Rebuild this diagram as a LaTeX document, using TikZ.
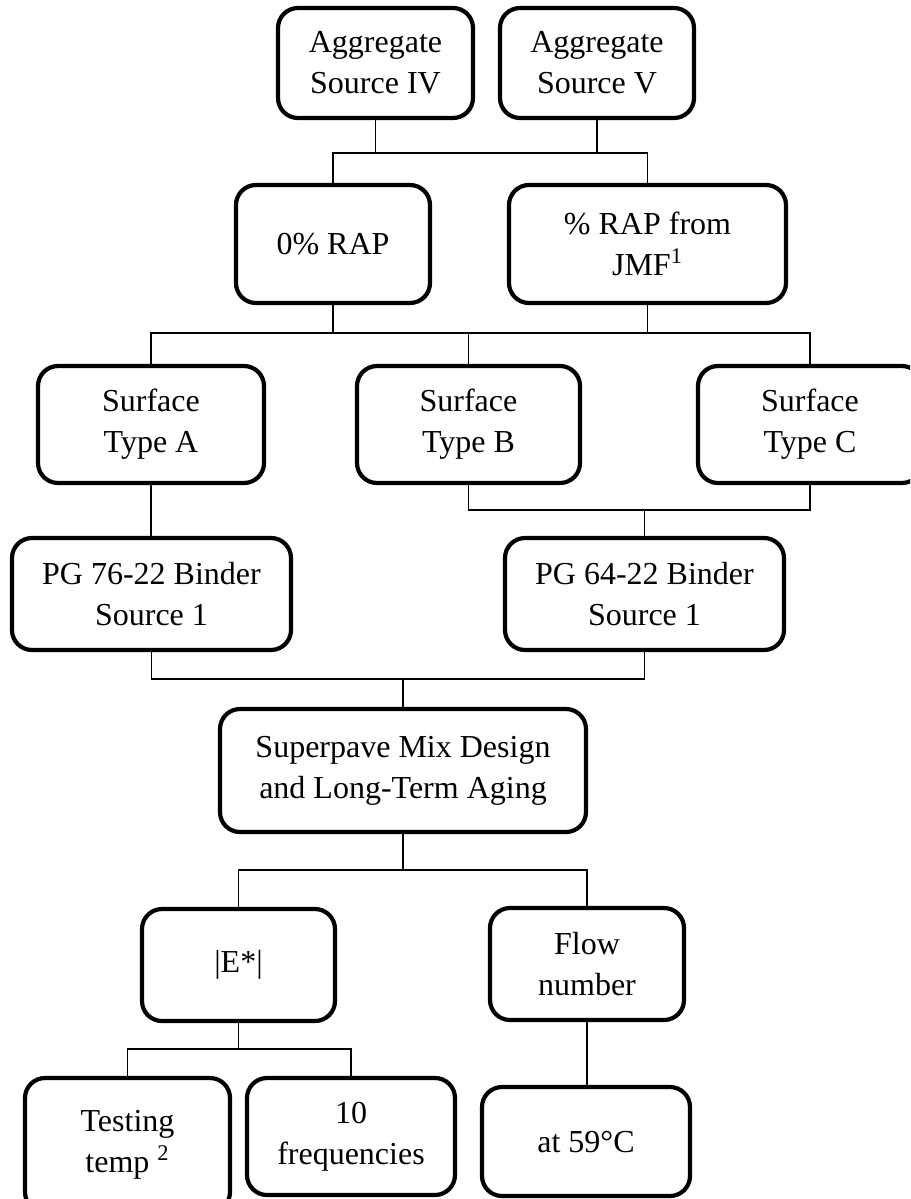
\documentclass[tikz,border=0pt]{standalone}
\usepackage{fontspec}
\setmainfont{Liberation Serif}
\tikzset{
  box/.style={draw, line width=2.1pt, rounded corners=10pt, inner sep=0pt,
    align=center, font=\fontsize{16pt}{20.5pt}\selectfont},
  link/.style={line width=0.8pt}
}
% \bx{name}{x1}{y1}{x2}{y2}{text}: rounded box spanning the given corners
\newcommand\bx[6]{\node[box, minimum width={(#4-#2)*0.5pt}, minimum height={(#5-#3)*0.5pt}]
  (#1) at ({(#2+#4)/2},{(#3+#5)/2}) {#6};}
\begin{document}
\begin{tikzpicture}[x=0.5pt,y=-0.5pt]
\useasboundingbox (0,0) rectangle (910,1199);
\clip (0,0) rectangle (910,1199);

% aggregates
\bx{a4}{278}{8}{473}{118}{Aggregate\\Source IV}
\bx{a5}{500}{8}{694}{118}{Aggregate\\Source V}
% RAP content
\bx{r0}{236}{185}{430}{303}{0\% RAP}
\bx{rj}{509}{185}{786}{303}{\% RAP from\\JMF\textsuperscript{1}}
% surface types
\bx{sa}{38}{366}{264}{483}{Surface\\Type A}
\bx{sb}{357}{366}{580}{483}{Surface\\Type B}
\bx{sc}{698}{366}{922}{483}{Surface\\Type C}
% binders
\bx{pg76}{12}{538}{291}{650}{PG 76-22 Binder\\Source 1}
\bx{pg64}{505}{538}{784}{650}{PG 64-22 Binder\\Source 1}
% mix design
\bx{sp}{220}{709}{586}{832}{Superpave Mix Design\\and Long-Term Aging}
% tests
\bx{em}{142}{909}{335}{1021}{|E*|}
\bx{fn}{490}{908}{684}{1020}{Flow\\number}
\bx{tt}{25}{1078}{230}{1212}{Testing\\temp \textsuperscript{2}}
\bx{tf}{247}{1078}{455}{1195}{10\\frequencies}
\bx{t59}{482}{1087}{690}{1196}{at 59\textdegree C}

% junction levels
\coordinate (j1) at (0,153);
\coordinate (j2) at (0,333);
\coordinate (j3) at (0,510);
\coordinate (j4) at (0,679);
\coordinate (j5) at (0,870);
\coordinate (j6) at (0,1049);

% aggregates -> RAP
\draw[link] (a4.south) -- (a4.south |- j1);
\draw[link] (a5.south) -- (a5.south |- j1);
\draw[link] (r0.north) |- (j1 -| rj.north) -- (rj.north);
% RAP -> surface types
\draw[link] (r0.south) -- (r0.south |- j2);
\draw[link] (rj.south) -- (rj.south |- j2);
\draw[link] (sa.north) |- (j2 -| sc.north) -- (sc.north);
\draw[link] (sb.north) -- (sb.north |- j2);
% surface types -> binders
\draw[link] (sa.south) -- (sa.south |- pg76.north);
\draw[link] (sb.south) |- (j3 -| sc.south) -- (sc.south);
\draw[link] (pg64.north) -- (pg64.north |- j3);
% binders -> mix design
\draw[link] (pg76.south) |- (j4 -| pg64.south) -- (pg64.south);
\draw[link] (sp.north) -- (sp.north |- j4);
% mix design -> tests
\draw[link] (sp.south) -- (sp.south |- j5);
\draw[link] (em.north) |- (j5 -| fn.north) -- (fn.north);
% |E*| -> conditions
\draw[link] (em.south) -- (em.south |- j6);
\draw[link] (tt.north) |- (j6 -| tf.north) -- (tf.north);
% flow number -> temperature
\draw[link] (fn.south) -- (fn.south |- t59.north);
\end{tikzpicture}
\end{document}
